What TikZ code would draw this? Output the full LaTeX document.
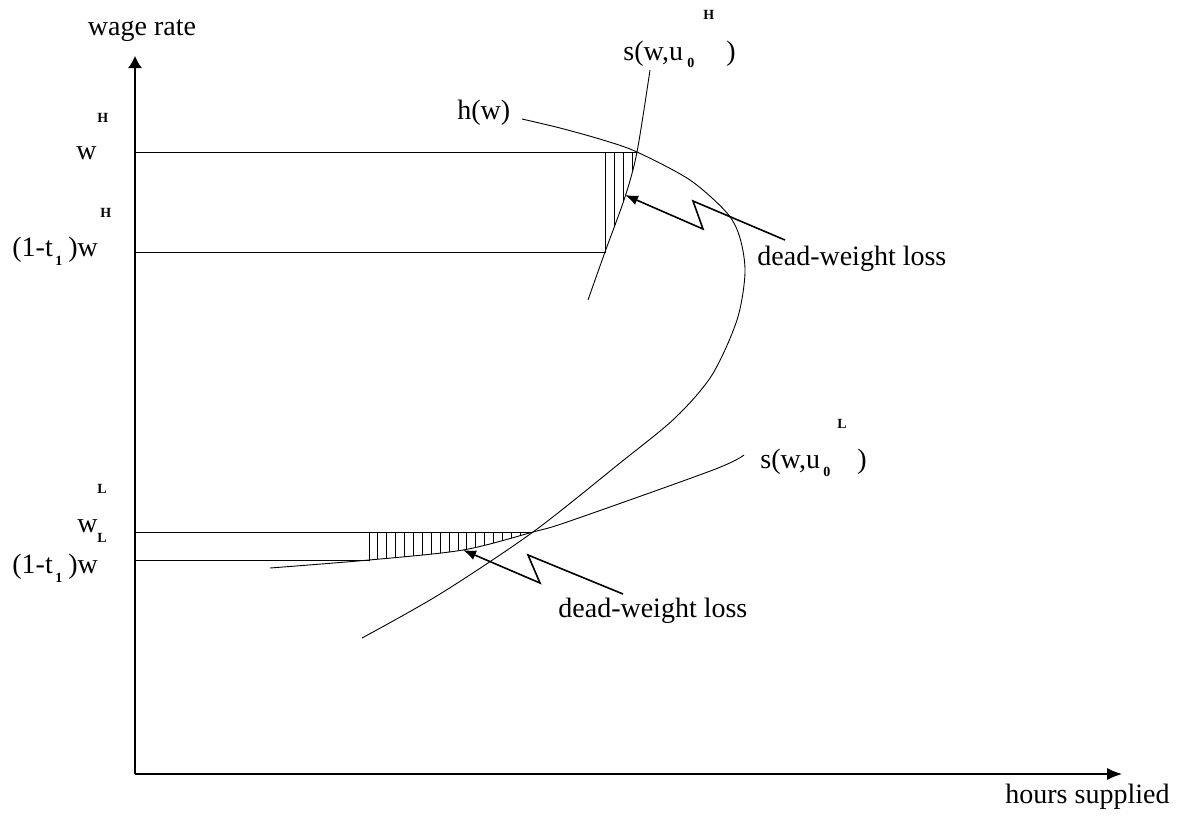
\documentclass[tikz,border=0pt]{standalone}
\usepackage{fontspec}
\setmainfont{Liberation Serif}
\usetikzlibrary{arrows.meta}
\tikzset{
  lbl/.style={inner sep=0pt, font=\fontsize{14}{16}\selectfont},
  idx/.style={inner sep=0pt, font=\fontsize{7}{8}\selectfont\bfseries},
  curve/.style={line width=0.45pt},
  zig/.style={line width=0.8pt, -{Latex[length=6.5pt,width=5pt]}},
}
\begin{document}
\begin{tikzpicture}[x=0.5pt,y=-0.5pt]
	\useasboundingbox (0,0) rectangle (1196,816);
	% axes
	\coordinate (O) at (135,774);
	\coordinate (ytop) at (135,56);
	\coordinate (xend) at (1122,774);
	\draw[line width=0.55pt, -{Latex[length=6pt,width=7pt]}] (O) -- (ytop);
	\draw[line width=0.55pt, -{Latex[length=7.5pt,width=6pt]}] (O) -- (xend);
	\node[lbl, anchor=base] (wage) at (142,35) {wage rate};
	\node[lbl, anchor=base west] (hours) at (1005,803) {hours supplied};
	% high wage rectangle
	\draw[curve] (135,152) -- (637,152);
	\draw[curve] (135,252) -- (605,252) -- (605,152);
	% low wage rectangle
	\draw[curve] (135,532) -- (533,532);
	\draw[curve] (135,560) -- (369,560) -- (369,532);
	% hatching, high wage
	\begin{scope}
		\clip plot[smooth] coordinates {(588,300) (605,252) (625,197) (637,152) (650,70)} -- (560,70) -- (560,300) -- cycle;
		\clip (605,152) rectangle (640,252);
		\foreach \x in {614,623,632} \draw[curve] (\x,152) -- (\x,252);
	\end{scope}
	% hatching, low wage
	\begin{scope}
		\clip plot[smooth] coordinates {(270,568) (369,560) (463,550) (533,532) (570,521) (713,470) (744,455)} -- (744,400) -- (270,400) -- cycle;
		\clip (369,532) rectangle (533,600);
		\foreach \x in {377.9,386.8,...,530} \draw[curve] (\x,532) -- (\x,600);
	\end{scope}
	% curves
	\draw[curve] plot[smooth] coordinates {(588,300) (605,252) (625,197) (637,152) (650,70)};
	\draw[curve] plot[smooth] coordinates {(270,568) (369,560) (463,550) (533,532) (570,521) (713,470) (744,455)};
	\draw[curve] plot[smooth] coordinates {(522,119) (560,128) (603,140) (637,152) (690,180) (727,213) (740,238) (745,273) (737,320) (712,375) (675,418) (620,463) (533,532) (440,594) (362,638)};
	% dead-weight loss pointers
	\coordinate (zhA) at (785,240);
	\coordinate (zhB) at (693,201);
	\coordinate (zhC) at (703,229);
	\coordinate (zhT) at (625,195);
	\draw[zig] (zhA) -- (zhB) -- (zhC) -- (zhT);
	\coordinate (zlA) at (623,594);
	\coordinate (zlB) at (528,555);
	\coordinate (zlC) at (540,583);
	\coordinate (zlT) at (463,550);
	\draw[zig] (zlA) -- (zlB) -- (zlC) -- (zlT);
	\node[lbl, anchor=base west] (dwlH) at (757,265) {dead-weight loss};
	\node[lbl, anchor=base west] (dwlL) at (558,617) {dead-weight loss};
	% curve labels
	\node[lbl, anchor=base west] (hw) at (457,119) {h(w)};
	\node[lbl, anchor=base west] (sH) at (623,60) {s(w,u};
	\node[idx, anchor=base west] (sHsub) at (687,67) {0};
	\node[idx, anchor=base west] (sHsup) at (703,19) {H};
	\node[lbl, anchor=base west] (sHend) at (726,60) {)};
	\node[lbl, anchor=base west] (sL) at (760,468) {s(w,u};
	\node[idx, anchor=base west] (sLsub) at (823,476) {0};
	\node[idx, anchor=base west] (sLsup) at (837,428) {L};
	\node[lbl, anchor=base west] (sLend) at (857,468) {)};
	% wage labels
	\node[idx, anchor=base west] (wHsup) at (97,122) {H};
	\node[lbl, anchor=base west] (wH) at (76,159) {w};
	\node[idx, anchor=base west] (twHsup) at (100,217) {H};
	\node[lbl, anchor=base west] (twH) at (12,256) {(1-t};
	\node[idx, anchor=base west] (twHsub) at (55,265) {1};
	\node[lbl, anchor=base west] (twHend) at (68,256) {)w};
	\node[idx, anchor=base west] (wLsup) at (97,493) {L};
	\node[lbl, anchor=base west] (wL) at (77,532) {w};
	\node[idx, anchor=base west] (wLsub) at (97,542) {L};
	\node[lbl, anchor=base west] (twL) at (12,573) {(1-t};
	\node[idx, anchor=base west] (twLsub) at (55,582) {1};
	\node[lbl, anchor=base west] (twLend) at (68,573) {)w};
\end{tikzpicture}
\end{document}
